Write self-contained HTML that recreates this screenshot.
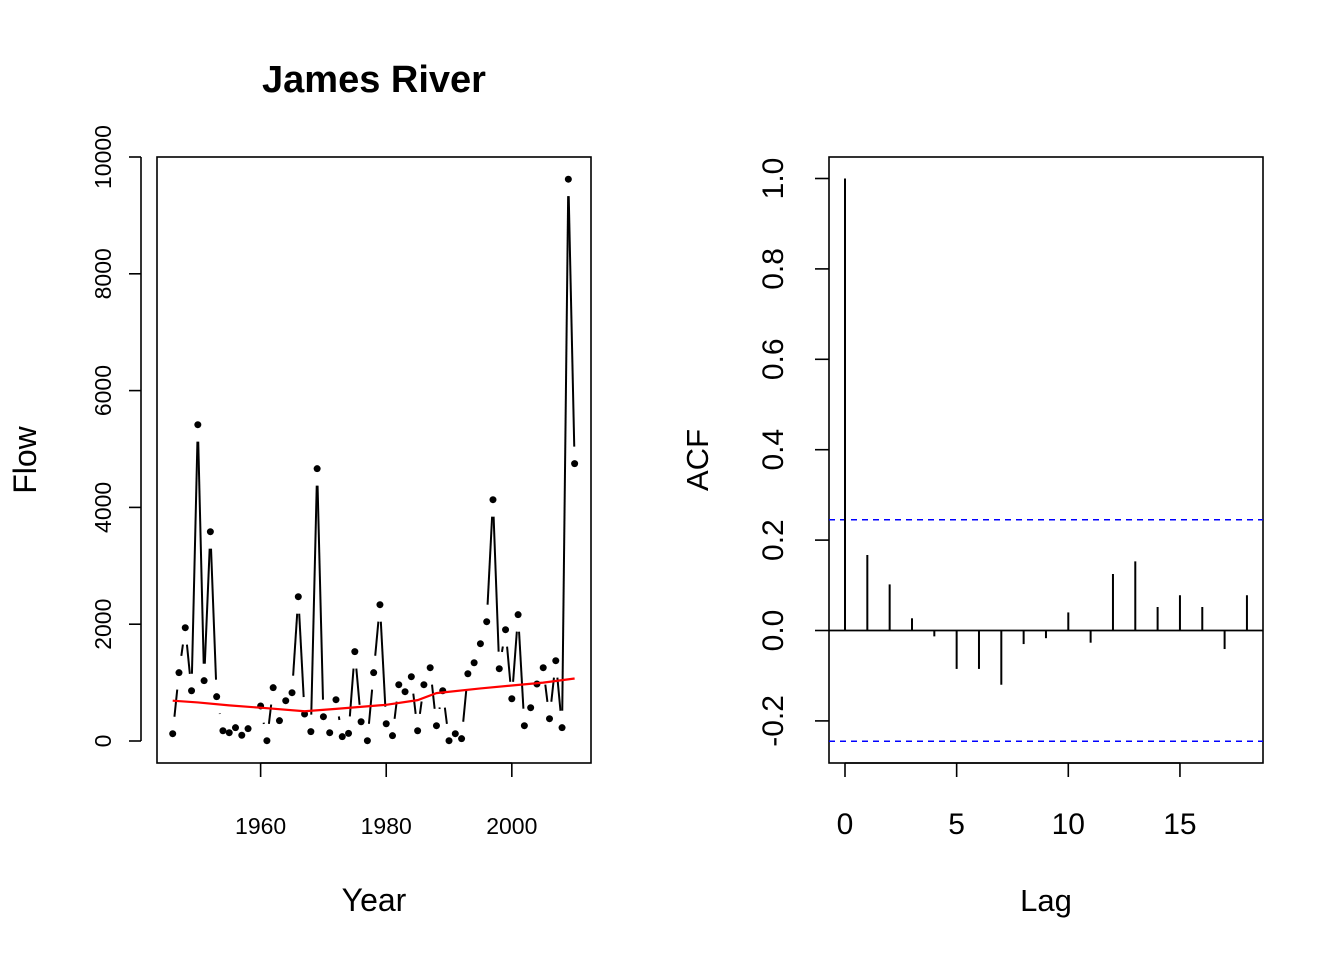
<!DOCTYPE html>
<html><head><meta charset="utf-8"><style>
html,body{margin:0;padding:0;background:#fff;}
svg{display:block;font-family:"Liberation Sans",Arial,sans-serif;}
</style></head><body>
<svg id="chart" width="1344" height="960" viewBox="0 0 1344 960" xmlns="http://www.w3.org/2000/svg">
<rect x="0" y="0" width="1344" height="960" fill="#fff"/>
<g id="left"></g>
<g id="right"></g>
</svg>
<script>
const years = [1946,1947,1948,1949,1950,1951,1952,1953,1954,1955,1956,1957,1958,1959,1960,1961,1962,1963,1964,1965,1966,1967,1968,1969,1970,1971,1972,1973,1974,1975,1976,1977,1978,1979,1980,1981,1982,1983,1984,1985,1986,1987,1988,1989,1990,1991,1992,1993,1994,1995,1996,1997,1998,1999,2000,2001,2002,2003,2004,2005,2006,2007,2008,2009,2010];
const flow = [125,1170,1940,860,5416,1033,3584,759,176,142,228,98,211,null,600,5,913,348,690,827,2471,462,160,4663,416,142,707,74,130,1530,330,5,1170,2334,296,91,964,844,1101,176,964,1255,262,861,5,125,40,1152,1340,1666,2043,4132,1238,1906,724,2163,262,570,976,1255,382,1375,228,9620,4750];
const smoothYears = [1946,1950,1955,1960,1967,1972,1980,1985,1988,1995,2000,2005,2010];
const smoothVals = [690,660,610,570,510,550,620,700,820,900,950,1000,1070];
const xTicks = [1960,1980,2000];
const yTicks = [0,2000,4000,6000,8000,10000];
const lags = [0,1,2,3,4,5,6,7,8,9,10,11,12,13,14,15,16,17,18];
const acf = [1,0.167,0.102,0.027,-0.013,-0.085,-0.085,-0.12,-0.030,-0.017,0.040,-0.027,0.125,0.153,0.052,0.078,0.052,-0.041,0.078];
const ciBound = 0.245;
const acfXTicks = [0,5,10,15];
const acfYTicks = [-0.2,0,0.2,0.4,0.6,0.8,1.0];
const acfYLabels = ["-0.2","0.0","0.2","0.4","0.6","0.8","1.0"];

const NS="http://www.w3.org/2000/svg";
function mk(parent,tag,attrs,text){const e=document.createElementNS(NS,tag);for(const k in attrs)e.setAttribute(k,attrs[k]);if(text!==undefined)e.textContent=text;parent.appendChild(e);return e;}

// ---- left panel ----
const L=document.getElementById('left');
const lx=y=>172.7+(y-1946)*6.28;
const ly=v=>741-v*0.0584;
let e;
e=mk(L,'rect',{x:157,y:157,width:434,height:606,fill:'none',stroke:'#000','stroke-width':1.6});


e=mk(L,'text',{x:374,y:92,'text-anchor':'middle','font-size':'38','font-weight':'bold'},'James River');


e=mk(L,'text',{x:374,y:911,'text-anchor':'middle','font-size':'32'},'Year');


e=mk(L,'text',{x:0,y:0,'text-anchor':'middle','font-size':'32',transform:'translate(36,460) rotate(-90)'},'Flow');


mk(L,'line',{x1:lx(xTicks[0]),x2:lx(xTicks[xTicks.length-1]),y1:763,y2:763,stroke:'#000','stroke-width':1.6});
xTicks.forEach(t=>{
  mk(L,'line',{x1:lx(t),x2:lx(t),y1:763,y2:777,stroke:'#000','stroke-width':1.6});
  e=mk(L,'text',{x:lx(t),y:834,'text-anchor':'middle','font-size':'23'},String(t));
  
  
});
mk(L,'line',{x1:141,x2:141,y1:ly(0),y2:ly(10000),stroke:'#000','stroke-width':1.6});
yTicks.forEach(t=>{
  mk(L,'line',{x1:129,x2:141,y1:ly(t),y2:ly(t),stroke:'#000','stroke-width':1.6});
  e=mk(L,'text',{x:0,y:0,'text-anchor':'middle','font-size':'23',transform:`translate(111,${ly(t)}) rotate(-90)`},String(t));
  
  
});
// lines with gaps (type "b")
const gap=17;
for(let i=0;i<years.length-1;i++){
  if(flow[i]==null||flow[i+1]==null)continue;
  const x1=lx(years[i]),y1=ly(flow[i]),x2=lx(years[i+1]),y2=ly(flow[i+1]);
  const d=Math.hypot(x2-x1,y2-y1);
  if(d<=2*gap)continue;
  const ux=(x2-x1)/d,uy=(y2-y1)/d;
  e=mk(L,'line',{x1:x1+ux*gap,y1:y1+uy*gap,x2:x2-ux*gap,y2:y2-uy*gap,stroke:'#000','stroke-width':2});
  
  
}
years.forEach((yr,i)=>{
  if(flow[i]==null)return;
  e=mk(L,'circle',{cx:lx(yr),cy:ly(flow[i]),r:3.5,fill:'#000'});
  
  
});
e=mk(L,'polyline',{points:smoothYears.map((y,i)=>lx(y)+','+ly(smoothVals[i])).join(' '),fill:'none',stroke:'#ff0000','stroke-width':2.2});



// ---- right panel ----
const R=document.getElementById('right');
const ax=l=>845+l*22.33;
const ay=v=>630.5-v*452;
e=mk(R,'rect',{x:829,y:157,width:434,height:606,fill:'none',stroke:'#000','stroke-width':1.6});


e=mk(R,'text',{x:1046,y:911,'text-anchor':'middle','font-size':'31'},'Lag');


e=mk(R,'text',{x:0,y:0,'text-anchor':'middle','font-size':'31',transform:'translate(708,460) rotate(-90)'},'ACF');


acfXTicks.forEach(t=>{
  mk(R,'line',{x1:ax(t),x2:ax(t),y1:763,y2:777,stroke:'#000','stroke-width':1.6});
  e=mk(R,'text',{x:ax(t),y:834,'text-anchor':'middle','font-size':'30'},String(t));
  
  
});
mk(R,'line',{x1:ax(acfXTicks[0]),x2:ax(acfXTicks[acfXTicks.length-1]),y1:763,y2:763,stroke:'#000','stroke-width':1.6});
acfYTicks.forEach((t,i)=>{
  mk(R,'line',{x1:815,x2:829,y1:ay(t),y2:ay(t),stroke:'#000','stroke-width':1.6});
  e=mk(R,'text',{x:0,y:0,'text-anchor':'middle','font-size':'30',transform:`translate(783,${ay(t)}) rotate(-90)`},acfYLabels[i]);
  
  
});
e=mk(R,'line',{x1:829,x2:1263,y1:ay(0),y2:ay(0),stroke:'#000','stroke-width':1.8});


[ciBound,-ciBound].forEach(b=>{
  e=mk(R,'line',{x1:829,x2:1263,y1:ay(b),y2:ay(b),stroke:'#0000ff','stroke-width':1.6,'stroke-dasharray':'6,5'});
  
  
});
lags.forEach((l,i)=>{
  e=mk(R,'line',{x1:ax(l),x2:ax(l),y1:ay(0),y2:ay(acf[i]),stroke:'#000','stroke-width':2});
  
  
});
</script>
</body></html>
